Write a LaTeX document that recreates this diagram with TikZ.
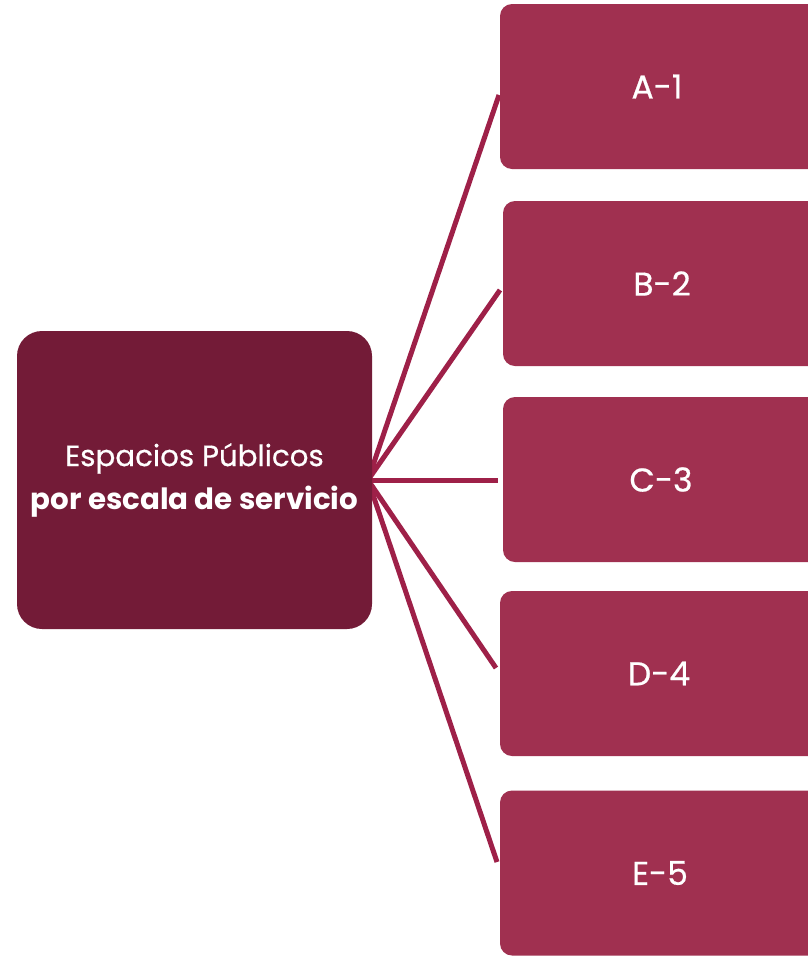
\documentclass[tikz,border=0pt]{standalone}
\usepackage{fontspec}
\setmainfont{Poppins}
\newfontfamily\medfont{Poppins}[FakeBold=0.6]
\definecolor{hubcol}{RGB}{115,27,55}
\definecolor{leafcol}{RGB}{160,48,80}
\definecolor{linkcol}{RGB}{158,32,72}
\tikzset{
  leaf/.style={draw=none,fill=leafcol,rounded corners=12pt,minimum width=330pt,minimum height=165pt,inner sep=0pt,text=white,font=\medfont\fontsize{33}{38}\selectfont},
  hubbox/.style={draw=none,fill=hubcol,rounded corners=25pt,minimum width=355pt,minimum height=298pt,inner sep=0pt,text=white,align=center,font=\fontsize{29.3}{43}\selectfont},
  link/.style={draw=linkcol,line width=5pt}
}
\begin{document}
\begin{tikzpicture}[x=1pt,y=-1pt]
\useasboundingbox (0,0) rectangle (808,956);
\clip (0,0) rectangle (808,956);
\fill[white] (0,0) rectangle (808,956);
\coordinate (hub) at (368,480);
\coordinate (ea) at (499,95);
\coordinate (eb) at (500,290);
\coordinate (ec) at (498,480);
\coordinate (ed) at (496,668);
\coordinate (ee) at (497,862);
\draw[link] (hub) -- (ea);
\draw[link] (hub) -- (eb);
\draw[link] (hub) -- (ec);
\draw[link] (hub) -- (ed);
\draw[link] (hub) -- (ee);
\node[hubbox] (center) at (194.5,480) {{\medfont Espacios Públicos}\\\textbf{por escala de servicio}};
\node[leaf] (a) at (665,86.5) {\hspace*{-16pt}A-1};
\node[leaf] (b) at (668,283.5) {\hspace*{-12pt}B-2};
\node[leaf] (c) at (668,479.5) {\hspace*{-14pt}C-3};
\node[leaf] (d) at (665,673.5) {\hspace*{-12pt}D-4};
\node[leaf] (e) at (665,873) {\hspace*{-10pt}E-5};
\end{tikzpicture}
\end{document}
